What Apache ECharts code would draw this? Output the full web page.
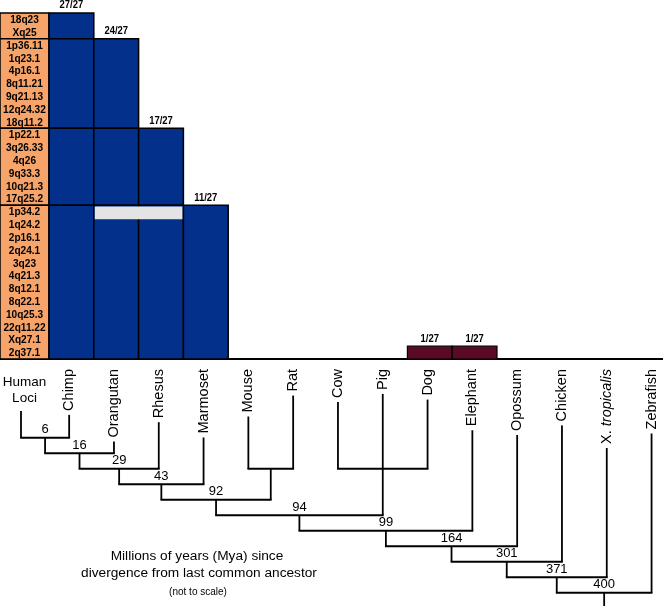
<!DOCTYPE html>
<html>
<head>
<meta charset="utf-8">
<script src="https://cdn.jsdelivr.net/npm/echarts@6/dist/echarts.min.js"></script>
<style>
html, body { margin: 0; padding: 0; background: #fff; }
#main { width: 663px; height: 606px; }
</style>
</head>
<body>
<div id="main"></div>
<script>
// loci, top to bottom
var loci = ['18q23', 'Xq25', '1p36.11', '1q23.1', '4p16.1', '8q11.21', '9q21.13', '12q24.32', '18q11.2',
  '1p22.1', '3q26.33', '4q26', '9q33.3', '10q21.3', '17q25.2', '1p34.2', '1q24.2', '2p16.1', '2q24.1',
  '3q23', '4q21.3', '8q12.1', '8q22.1', '10q25.3', '22q11.22', 'Xq27.1', '2q37.1'];
var groupSizes = [2, 7, 6, 12];
var species = ['Chimp', 'Orangutan', 'Rhesus', 'Marmoset', 'Mouse', 'Rat', 'Cow', 'Pig', 'Dog',
  'Elephant', 'Opossum', 'Chicken', 'X. tropicalis', 'Zebrafish'];
var hits = [27, 24, 17, 11, 0, 0, 0, 0, 1, 1, 0, 0, 0, 0];
// first locus group still found in each primate
var firstGroup = [0, 1, 2, 3];
var missingLocus = '1p34.2';
var missingIn = ['Orangutan', 'Rhesus'];
// tree nodes: [age label, depth, children]  (nN = node N)
var treeNodes = [
  ['6', 1, ['Human', 'Chimp']],
  ['16', 2, ['n0', 'Orangutan']],
  ['29', 3, ['n1', 'Rhesus']],
  ['43', 4, ['n2', 'Marmoset']],
  ['', 3, ['Mouse', 'Rat']],
  ['92', 5, ['n3', 'n4']],
  ['', 3, ['Cow', 'Pig', 'Dog']],
  ['94', 6, ['n5', 'n6']],
  ['99', 7, ['n7', 'Elephant']],
  ['164', 8, ['n8', 'Opossum']],
  ['301', 9, ['n9', 'Chicken']],
  ['371', 10, ['n10', 'X. tropicalis']],
  ['400', 11, ['n11', 'Zebrafish']]
];

var FONT = 'Arial, "Liberation Sans", sans-serif';
var BLUE = '#02308a', ORANGE = '#f6a46a', MAROON = '#5b0a24', GAP = '#e4e4e4';
var ROWS = loci.length;
var COLW = 44.8;          // px per species column
var LEAF_TOP = -3.5;      // tree level where leaf labels start
var TREE_BOTTOM = 11.855;

var groupStarts = [], acc = 0;
groupSizes.forEach(function (n) { groupStarts.push(acc); acc += n; });

var lociBlocks = groupSizes.map(function (n, k) { return [-49 / COLW, groupStarts[k], groupStarts[k] + n]; });
var blueBlocks = [];
firstGroup.forEach(function (g, s) {
  for (var k = g; k < groupSizes.length; k++) blueBlocks.push([s, groupStarts[k], groupStarts[k] + groupSizes[k]]);
});
var gapCols = missingIn.map(function (n) { return species.indexOf(n); });
var gapRow = loci.indexOf(missingLocus);
var gapData = [[Math.min.apply(null, gapCols), gapRow, Math.max.apply(null, gapCols) + 1]];
var singleBars = [];
var countData = [];
hits.forEach(function (h, s) {
  if (!h) return;
  var top = firstGroup[s] !== undefined ? groupStarts[firstGroup[s]] : ROWS - h;
  if (firstGroup[s] === undefined) singleBars.push([s, ROWS - h, ROWS]);
  countData.push([s + 0.5, top, h]);
});

// tree layout
var leafCol = { 'Human': -0.625 };
species.forEach(function (n, i) { leafCol[n] = i + 0.45; });
var nodeX = [];
function isNode(c) { return /^n\d+$/.test(c); }
function colOf(c) { return isNode(c) ? nodeX[+c.slice(1)] : leafCol[c]; }
function topOf(c) { return isNode(c) ? treeNodes[+c.slice(1)][1] : LEAF_TOP + 0.4; }
treeNodes.forEach(function (nd, i) {
  var xs = nd[2].map(colOf);
  nodeX[i] = (Math.min.apply(null, xs) + Math.max.apply(null, xs)) / 2;
});
var treeData = treeNodes.map(function (nd, i) { return [nodeX[i], nd[1]]; });
var leafNames = ['Human'].concat(species);
var leafData = leafNames.map(function (n) { return [leafCol[n], LEAF_TOP]; });

function rectBetween(api, a, b) {
  var p0 = api.coord(a), p1 = api.coord(b);
  return { x: p0[0], y: p0[1], width: p1[0] - p0[0], height: p1[1] - p0[1] };
}
function txt(x, y, text, size, weight, align, valign, extra) {
  var st = {
    text: text, x: 0, y: 0, fill: '#000', fontSize: size, fontWeight: weight || 'normal', fontFamily: FONT,
    align: align, textAlign: align, verticalAlign: valign, textVerticalAlign: valign
  };
  for (var k in extra) st[k] = extra[k];
  return { type: 'text', x: x, y: y, style: st };
}

var myChart = echarts.init(document.getElementById('main'));
var xRange = { min: -49 / COLW, max: 614 / COLW };

var option = {
  animation: false,
  grid: [
    { left: 0, right: 0, top: 13, height: 346 },
    { left: 0, right: 0, top: 368, height: 238 }
  ],
  xAxis: [
    {
      gridIndex: 0, type: 'value', min: xRange.min, max: xRange.max,
      axisLine: { show: true, onZero: false, lineStyle: { color: '#000', width: 2 } },
      axisTick: { show: false }, axisLabel: { show: false }, splitLine: { show: false }
    },
    { gridIndex: 1, type: 'value', min: xRange.min, max: xRange.max, show: false }
  ],
  yAxis: [
    { gridIndex: 0, type: 'value', min: 0, max: ROWS, inverse: true, show: false },
    { gridIndex: 1, type: 'value', min: LEAF_TOP, max: TREE_BOTTOM, inverse: true, show: false }
  ],
  graphic: [
    { type: 'text', x: 197, y: 556, style: { text: 'Millions of years (Mya) since', fontSize: 13.7, fontFamily: FONT, fill: '#000', align: 'center', textAlign: 'center', verticalAlign: 'middle', textVerticalAlign: 'middle' } },
    { type: 'text', x: 199, y: 573, style: { text: 'divergence from last common ancestor', fontSize: 13.7, fontFamily: FONT, fill: '#000', align: 'center', textAlign: 'center', verticalAlign: 'middle', textVerticalAlign: 'middle' } },
    { type: 'text', x: 198, y: 592, style: { text: '(not to scale)', fontSize: 10, fontFamily: FONT, fill: '#000', align: 'center', textAlign: 'center', verticalAlign: 'middle', textVerticalAlign: 'middle' } }
  ],
  series: [
    {
      // orange loci column
      type: 'custom', xAxisIndex: 0, yAxisIndex: 0, z: 2, data: lociBlocks,
      renderItem: function (params, api) {
        return {
          type: 'rect', shape: rectBetween(api, [api.value(0), api.value(1)], [0, api.value(2)]),
          style: { fill: ORANGE, stroke: '#000', lineWidth: 1.5 }
        };
      }
    },
    {
      type: 'custom', xAxisIndex: 0, yAxisIndex: 0, z: 3,
      data: loci.map(function (l, i) { return [-24.5 / COLW, i + 0.5]; }),
      renderItem: function (params, api) {
        var p = api.coord([api.value(0), api.value(1)]);
        var el = txt(p[0], p[1] + 0.5, loci[params.dataIndex], 11.5, 'bold', 'center', 'middle');
        el.scaleX = 0.88;
        return el;
      }
    },
    {
      // blue blocks per species and locus group
      type: 'custom', xAxisIndex: 0, yAxisIndex: 0, z: 2, data: blueBlocks,
      renderItem: function (params, api) {
        var c = api.value(0);
        return {
          type: 'rect', shape: rectBetween(api, [c, api.value(1)], [c + 1, api.value(2)]),
          style: { fill: BLUE, stroke: '#000', lineWidth: 1.5 }
        };
      }
    },
    {
      // missing locus
      type: 'custom', xAxisIndex: 0, yAxisIndex: 0, z: 4, data: gapData,
      renderItem: function (params, api) {
        var r = rectBetween(api, [api.value(0), api.value(1)], [api.value(2), api.value(1) + 1]);
        return { type: 'rect', shape: { x: r.x + 1, y: r.y + 1.2, width: r.width - 2, height: r.height }, style: { fill: GAP } };
      }
    },
    {
      type: 'custom', xAxisIndex: 0, yAxisIndex: 0, z: 2, data: singleBars,
      renderItem: function (params, api) {
        var c = api.value(0);
        return {
          type: 'rect', shape: rectBetween(api, [c, api.value(1)], [c + 1, api.value(2)]),
          style: { fill: MAROON, stroke: '#000', lineWidth: 1.2 }
        };
      }
    },
    {
      // n/27 labels
      type: 'custom', xAxisIndex: 0, yAxisIndex: 0, z: 3, data: countData,
      renderItem: function (params, api) {
        var p = api.coord([api.value(0), api.value(1)]);
        var el = txt(p[0], p[1] - 2, api.value(2) + '/' + ROWS, 10.5, 'bold', 'center', 'bottom');
        el.scaleX = 0.9;
        return el;
      }
    },
    {
      // tree branches
      type: 'custom', xAxisIndex: 1, yAxisIndex: 1, z: 2, data: treeData,
      renderItem: function (params, api) {
        var nd = treeNodes[params.dataIndex];
        var lvl = api.value(1);
        var kids = nd[2];
        var xs = kids.map(colOf);
        var lineStyle = { stroke: '#000', lineWidth: 1.8, fill: null };
        var a = api.coord([Math.min.apply(null, xs), lvl]);
        var b = api.coord([Math.max.apply(null, xs), lvl]);
        var children = [{ type: 'line', shape: { x1: a[0] - 0.9, y1: a[1], x2: b[0] + 0.9, y2: b[1] }, style: lineStyle }];
        kids.forEach(function (k) {
          var t = api.coord([colOf(k), topOf(k)]);
          children.push({ type: 'line', shape: { x1: t[0], y1: t[1], x2: t[0], y2: a[1] }, style: lineStyle });
        });
        if (params.dataIndex === treeNodes.length - 1) {
          var r = api.coord([api.value(0), TREE_BOTTOM]);
          children.push({ type: 'line', shape: { x1: r[0], y1: a[1], x2: r[0], y2: r[1] }, style: lineStyle });
        }
        if (nd[0]) {
          var m = api.coord([api.value(0), lvl]);
          children.push(txt(m[0], m[1] - 1.5, nd[0], 13, 'normal', 'center', 'bottom'));
        }
        return { type: 'group', children: children };
      }
    },
    {
      // leaf labels (white box hides the branch end)
      type: 'custom', xAxisIndex: 1, yAxisIndex: 1, z: 5, data: leafData,
      renderItem: function (params, api) {
        var p = api.coord([api.value(0), api.value(1)]);
        var name = leafNames[params.dataIndex];
        if (name === 'Human') {
          return txt(p[0] + 3.5, p[1], 'Human\nLoci', 13.5, 'normal', 'center', 'top',
            { lineHeight: 16, backgroundColor: '#fff', padding: [6, 3, 5, 3] });
        }
        var extra = { backgroundColor: '#fff', padding: [0, 0, 0, 4] };
        var text = name;
        if (name === 'X. tropicalis') {
          text = 'X. {i|tropicalis}';
          extra.rich = { i: { fontStyle: 'italic', fontSize: 14.5, fontFamily: FONT, fill: '#000' } };
        }
        var el = txt(p[0], p[1] + 1, text, 14.5, 'normal', 'right', 'middle', extra);
        el.rotation = Math.PI / 2;
        return el;
      }
    }
  ]
};

myChart.setOption(option);
</script>
</body>
</html>
